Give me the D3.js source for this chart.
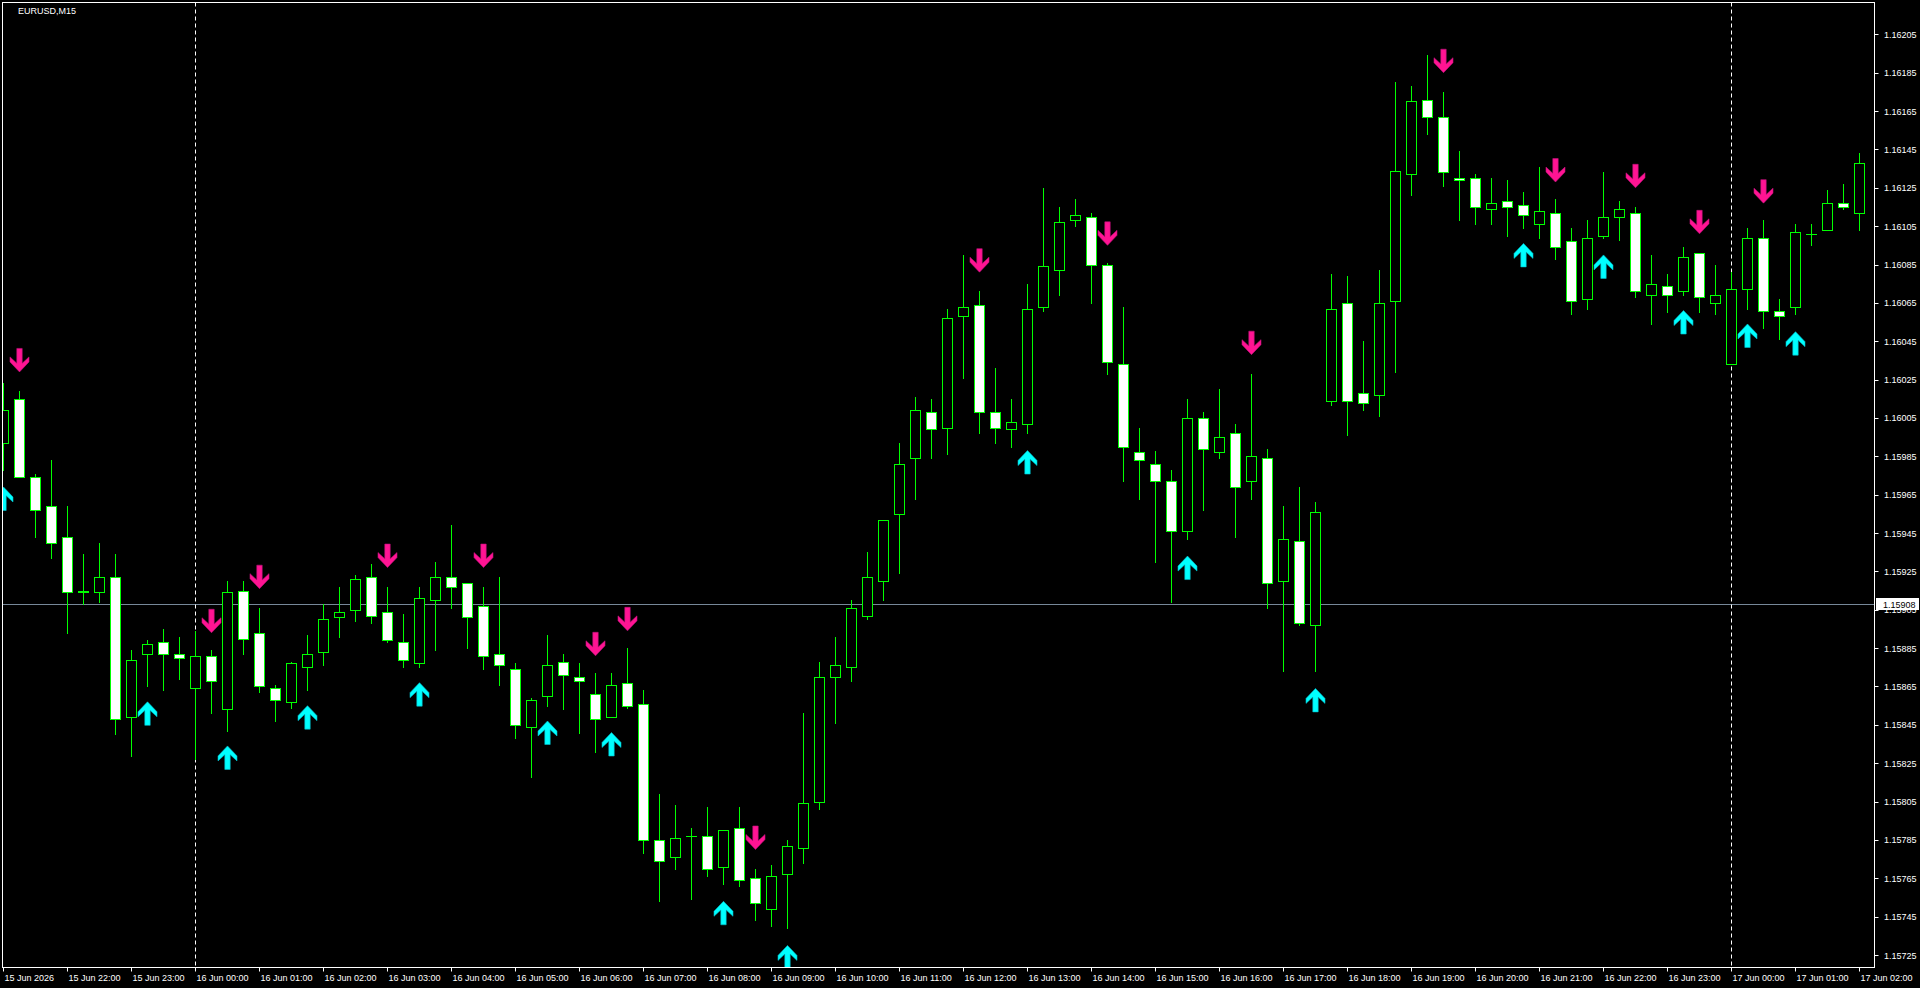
<!DOCTYPE html>
<html><head><meta charset="utf-8">
<script src="https://cdn.jsdelivr.net/npm/d3@7"></script>
<style>html,body{margin:0;background:#000;overflow:hidden}svg{display:block}</style>
</head><body>
<svg id="c" width="1920" height="988"></svg>
<script>
const symbolTitle = "EURUSD,M15";
const opens = [1.15992,1.16015,1.15974,1.15959,1.15943,1.15915,1.15914,1.15922,1.15849,1.15882,
1.15888,1.15882,1.15864,1.15881,1.15853,1.15915,1.15893,1.15864,1.15857,1.15875,
1.15883,1.15901,1.15905,1.15922,1.15904,1.15888,1.15877,1.15910,1.15922,1.15919,
1.15907,1.15882,1.15874,1.15844,1.15860,1.15878,1.15870,1.15861,1.15849,1.15867,
1.15856,1.15785,1.15776,1.15787,1.15787,1.15771,1.15791,1.15765,1.15749,1.15767,
1.15781,1.15805,1.15870,1.15875,1.15902,1.15920,1.15955,1.15984,1.16008,1.16000,
1.16058,1.16064,1.16008,1.15999,1.16002,1.16063,1.16082,1.16108,1.16110,1.16085,
1.16033,1.15987,1.15981,1.15972,1.15946,1.16005,1.15987,1.15997,1.15972,1.15984,
1.15920,1.15941,1.15897,1.16014,1.16065,1.16018,1.16017,1.16066,1.16132,1.16171,
1.16162,1.16130,1.16130,1.16114,1.16118,1.16116,1.16106,1.16112,1.16097,1.16067,
1.16100,1.16110,1.16112,1.16069,1.16074,1.16071,1.16091,1.16065,1.16033,1.16072,
1.16099,1.16061,1.16063,1.16101,1.16103,1.16117,1.16112];
const highs = [1.16023,1.16019,1.15976,1.15983,1.15959,1.15934,1.15940,1.15934,1.15884,1.15889,
1.15895,1.15891,1.15894,1.15884,1.15920,1.15920,1.15906,1.15866,1.15878,1.15892,
1.15908,1.15917,1.15923,1.15929,1.15917,1.15903,1.15917,1.15930,1.15949,1.15919,
1.15917,1.15922,1.15877,1.15859,1.15892,1.15882,1.15877,1.15872,1.15872,1.15885,
1.15863,1.15809,1.15803,1.15791,1.15802,1.15790,1.15802,1.15770,1.15772,1.15785,
1.15851,1.15878,1.15891,1.15910,1.15935,1.15952,1.15992,1.16016,1.16015,1.16062,
1.16090,1.16071,1.16031,1.16015,1.16075,1.16125,1.16115,1.16119,1.16112,1.16086,
1.16063,1.16000,1.15988,1.15978,1.16015,1.16008,1.16020,1.16002,1.16028,1.15989,
1.15959,1.15969,1.15961,1.16080,1.16079,1.16045,1.16082,1.16180,1.16178,1.16194,
1.16175,1.16144,1.16132,1.16130,1.16129,1.16123,1.16136,1.16119,1.16104,1.16108,
1.16133,1.16118,1.16115,1.16090,1.16080,1.16094,1.16091,1.16085,1.16081,1.16104,
1.16108,1.16067,1.16106,1.16106,1.16124,1.16127,1.16143];
const lows = [1.15978,1.15974,1.15943,1.15932,1.15893,1.15908,1.15909,1.15840,1.15829,1.15865,
1.15863,1.15869,1.15827,1.15851,1.15842,1.15882,1.15862,1.15847,1.15854,1.15863,
1.15876,1.15891,1.15899,1.15898,1.15888,1.15875,1.15875,1.15884,1.15906,1.15885,
1.15874,1.15866,1.15838,1.15818,1.15855,1.15853,1.15841,1.15831,1.15849,1.15854,
1.15778,1.15753,1.15770,1.15754,1.15766,1.15762,1.15761,1.15743,1.15740,1.15739,
1.15773,1.15801,1.15846,1.15868,1.15900,1.15910,1.15924,1.15963,1.15984,1.15986,
1.16026,1.15997,1.15992,1.15990,1.15997,1.16061,1.16069,1.16105,1.16065,1.16028,
1.15972,1.15963,1.15930,1.15909,1.15942,1.15957,1.15984,1.15943,1.15963,1.15906,
1.15873,1.15897,1.15873,1.16012,1.15996,1.16009,1.16006,1.16029,1.16121,1.16153,
1.16126,1.16108,1.16106,1.16106,1.16100,1.16104,1.16099,1.16088,1.16059,1.16062,
1.16099,1.16098,1.16068,1.16054,1.16060,1.16069,1.16060,1.16059,1.16033,1.16062,
1.16052,1.16046,1.16059,1.16095,1.16103,1.16114,1.16103];
const closes = [1.16009,1.15974,1.15957,1.15940,1.15914,1.15914,1.15922,1.15848,1.15879,1.15887,
1.15882,1.15880,1.15881,1.15868,1.15914,1.15890,1.15865,1.15858,1.15877,1.15882,
1.15900,1.15904,1.15921,1.15902,1.15889,1.15879,1.15911,1.15922,1.15917,1.15901,
1.15881,1.15876,1.15845,1.15858,1.15876,1.15871,1.15868,1.15848,1.15866,1.15855,
1.15785,1.15774,1.15786,1.15787,1.15770,1.15790,1.15764,1.15752,1.15766,1.15782,
1.15804,1.15870,1.15876,1.15906,1.15922,1.15952,1.15981,1.16009,1.15999,1.16057,
1.16063,1.16008,1.16000,1.16003,1.16062,1.16084,1.16107,1.16111,1.16085,1.16034,
1.15990,1.15983,1.15972,1.15946,1.16005,1.15989,1.15995,1.15969,1.15985,1.15919,
1.15942,1.15898,1.15956,1.16062,1.16014,1.16013,1.16065,1.16134,1.16170,1.16162,
1.16133,1.16129,1.16115,1.16117,1.16115,1.16111,1.16113,1.16094,1.16066,1.16099,
1.16110,1.16114,1.16071,1.16075,1.16069,1.16089,1.16068,1.16069,1.16072,1.16099,
1.16061,1.16058,1.16102,1.16101,1.16117,1.16115,1.16138];
const xTickLabels = ["15 Jun 2026","15 Jun 22:00","15 Jun 23:00","16 Jun 00:00","16 Jun 01:00","16 Jun 02:00",
"16 Jun 03:00","16 Jun 04:00","16 Jun 05:00","16 Jun 06:00","16 Jun 07:00","16 Jun 08:00","16 Jun 09:00",
"16 Jun 10:00","16 Jun 11:00","16 Jun 12:00","16 Jun 13:00","16 Jun 14:00","16 Jun 15:00","16 Jun 16:00",
"16 Jun 17:00","16 Jun 18:00","16 Jun 19:00","16 Jun 20:00","16 Jun 21:00","16 Jun 22:00","16 Jun 23:00",
"17 Jun 00:00","17 Jun 01:00","17 Jun 02:00"];
const xTickIdx = d3.range(0, 117, 4);
const yTicks = [1.16205,1.16185,1.16165,1.16145,1.16125,1.16105,1.16085,1.16065,1.16045,1.16025,1.16005,
1.15985,1.15965,1.15945,1.15925,1.15905,1.15885,1.15865,1.15845,1.15825,1.15805,1.15785,1.15765,1.15745,1.15725];
const bidPrice = 1.15908;
const separatorIdx = [12, 108];
const upArrowIdx = [0,9,14,19,26,34,38,45,49,64,74,82,95,100,105,109,112];
const upArrowPrice = [1.15969,1.15857,1.15834,1.15855,1.15867,1.15847,1.15841,1.15753,1.15730,1.15988,
1.15933,1.15864,1.16096,1.16090,1.16061,1.16054,1.16050];
const downArrowIdx = [1,13,16,24,30,37,39,47,61,69,78,90,97,102,106,110];
const downArrowPrice = [1.16029,1.15893,1.15916,1.15927,1.15927,1.15881,1.15894,1.15780,1.16081,1.16095,
1.16038,1.16185,1.16128,1.16125,1.16101,1.16117];

const svg = d3.select("#c");
const W = 1920, H = 988;
const plotL = 2.5, plotT = 2.5, plotR = 1874.5, plotB = 967.5;
const x = d3.scaleLinear().domain([0, opens.length - 1]).range([3.5, 1859.5]);
const y = d3.scaleLinear().domain([1.15725, 1.16205]).range([955, 34.35]);
const snap = v => Math.round(v) + 0.5;
const green = "#00ff00";
const font = "'Liberation Sans', Arial, sans-serif";

svg.append("rect").attr("width", W).attr("height", H).attr("fill", "#000");
svg.append("defs").append("clipPath").attr("id", "plot")
  .append("rect").attr("x", 3).attr("y", 3).attr("width", plotR - 3).attr("height", plotB - 3);

const g = svg.append("g").attr("clip-path", "url(#plot)");

// bid line
g.append("line").attr("x1", plotL).attr("x2", plotR)
  .attr("y1", snap(y(bidPrice))).attr("y2", snap(y(bidPrice)))
  .attr("stroke", "#778899").attr("stroke-width", 1);

// day separators
g.selectAll("line.sep").data(separatorIdx).join("line").attr("class", "sep")
  .attr("x1", d => snap(x(d) - 0.5)).attr("x2", d => snap(x(d) - 0.5))
  .attr("y1", plotT).attr("y2", plotB)
  .attr("stroke", "#fff").attr("stroke-dasharray", "4,3").attr("stroke-width", 1);

const candles = d3.range(opens.length).map(i => ({i, o: opens[i], h: highs[i], l: lows[i], c: closes[i]}));

// wicks
g.selectAll("line.wick").data(candles).join("line").attr("class", "wick")
  .attr("x1", d => snap(x(d.i) - 0.5)).attr("x2", d => snap(x(d.i) - 0.5))
  .attr("y1", d => Math.round(y(d.h))).attr("y2", d => Math.round(y(d.l)) + 1)
  .attr("stroke", green).attr("stroke-width", 1);

// bodies
candles.forEach(d => {
  const cx = snap(x(d.i) - 0.5);
  const top = Math.round(y(Math.max(d.o, d.c)));
  const bot = Math.round(y(Math.min(d.o, d.c)));
  if (bot - top < 1) {
    g.append("line").attr("x1", cx - 5.5).attr("x2", cx + 5.5)
      .attr("y1", top + 0.5).attr("y2", top + 0.5).attr("stroke", green);
  } else {
    g.append("rect").attr("x", cx - 5).attr("y", top + 0.5)
      .attr("width", 10).attr("height", bot - top)
      .attr("fill", d.c < d.o ? "#fff" : "#000")
      .attr("stroke", green).attr("stroke-width", 1);
  }
});

// arrows
const upPts = [[0,0],[9.5,10],[9.5,15],[2.7,8.7],[2.7,23.5],[-2.7,23.5],[-2.7,8.7],[-9.5,15],[-9.5,10]];
g.selectAll("polygon.up").data(upArrowIdx).join("polygon").attr("class", "up")
  .attr("points", (d, k) => {
    const cx = x(d) - 0.5 + 0.5, ty = y(upArrowPrice[k]);
    return upPts.map(p => [cx + p[0], ty + p[1]].join(",")).join(" ");
  })
  .attr("fill", "#00ffff").attr("stroke", "#00b8c8").attr("stroke-width", 0.6);
g.selectAll("polygon.dn").data(downArrowIdx).join("polygon").attr("class", "dn")
  .attr("points", (d, k) => {
    const cx = x(d) - 0.5 + 0.5, by = y(downArrowPrice[k]);
    return upPts.map(p => [cx + p[0], by - p[1]].join(",")).join(" ");
  })
  .attr("fill", "#ff1493").attr("stroke", "#c0107a").attr("stroke-width", 0.6);

// frame
svg.append("rect").attr("x", plotL).attr("y", plotT)
  .attr("width", plotR - plotL).attr("height", plotB - plotT)
  .attr("fill", "none").attr("stroke", "#fff").attr("stroke-width", 1);

// y axis ticks & labels
const ya = svg.append("g");
ya.selectAll("line").data(yTicks).join("line")
  .attr("x1", plotR).attr("x2", plotR + 4)
  .attr("y1", d => snap(y(d))).attr("y2", d => snap(y(d)))
  .attr("stroke", "#fff");
ya.selectAll("text").data(yTicks).join("text")
  .attr("x", 1884).attr("y", d => y(d) + 3.5)
  .attr("fill", "#fff").attr("font-family", font).attr("font-size", 9)
  .text(d => d.toFixed(5));

// bid label
const by = snap(y(bidPrice));
svg.append("rect").attr("x", 1876).attr("y", by - 6.5).attr("width", 43).attr("height", 12).attr("fill", "#fff");
svg.append("text").attr("x", 1883).attr("y", by + 3.5).attr("fill", "#000")
  .attr("font-family", font).attr("font-size", 9).text(bidPrice.toFixed(5));

// x axis ticks & labels
const xa = svg.append("g");
xa.selectAll("line").data(xTickIdx).join("line")
  .attr("x1", d => snap(x(d) - 0.5)).attr("x2", d => snap(x(d) - 0.5))
  .attr("y1", plotB).attr("y2", plotB + 4).attr("stroke", "#fff");
xa.selectAll("text").data(xTickIdx).join("text")
  .attr("x", d => x(d) + 1).attr("y", 981)
  .attr("fill", "#fff").attr("font-family", font).attr("font-size", 9)
  .text((d, k) => xTickLabels[k]);

// title
svg.append("text").attr("x", 18).attr("y", 14).attr("fill", "#fff")
  .attr("font-family", font).attr("font-size", 9).text(symbolTitle);
</script>
</body></html>
